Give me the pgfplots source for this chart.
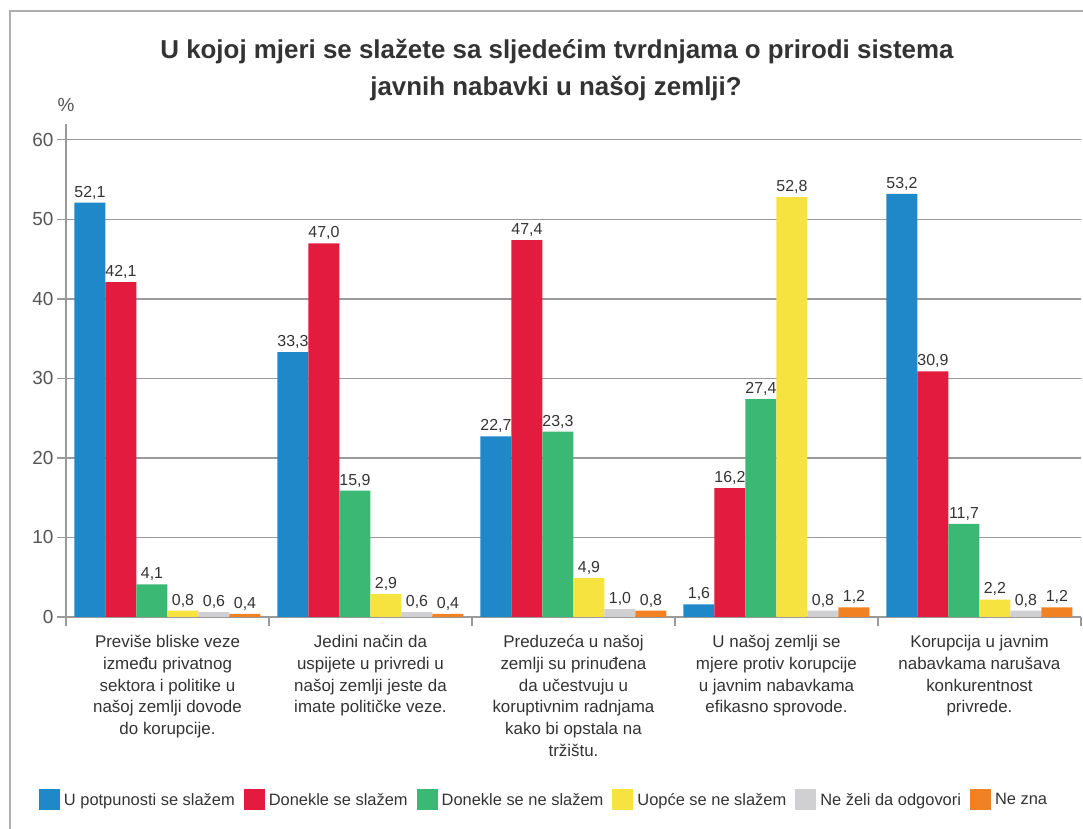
\documentclass[border=0pt]{standalone}
\usepackage{fontspec}
\setmainfont{Liberation Sans}
\usepackage{pgfplots}
\pgfplotsset{compat=1.18}
\definecolor{cBlue}{HTML}{1F88C9}
\definecolor{cRed}{HTML}{E31B3F}
\definecolor{cGreen}{HTML}{3BB873}
\definecolor{cYellow}{HTML}{F7E33F}
\definecolor{cGrey}{HTML}{D0D0D2}
\definecolor{cOrange}{HTML}{F28121}
\definecolor{cText}{HTML}{333333}
\definecolor{cTick}{HTML}{555555}
\definecolor{cLine}{HTML}{9A9A9A}
\begin{document}
\begin{tikzpicture}
\path[use as bounding box] (0,0) rectangle (1083bp,829bp);
\draw[color=cLine!80, line width=1.5bp] (10bp,-2bp) -- (10bp,818bp) -- (1085bp,818bp);
\node[anchor=base, font=\fontsize{26}{30}\selectfont\bfseries, text=cText] at (557bp,770bp) {U kojoj mjeri se slažete sa sljedećim tvrdnjama o prirodi sistema};
\node[anchor=base, font=\fontsize{26}{30}\selectfont\bfseries, text=cText] at (556bp,733bp) {javnih nabavki u našoj zemlji?};
\node[anchor=base, font=\fontsize{19}{22}\selectfont, text=cTick] at (66bp,717bp) {\%};
\begin{axis}[
  at={(66bp,212bp)}, anchor=south west,
  scale only axis, width=1015bp, height=493bp,
  xmin=0, xmax=5, ymin=0, ymax=62,
  axis lines=left, axis line style={-, color=cLine, line width=1.2bp},
  ytick={0,10,...,60}, ymajorgrids,
  grid style={color=cLine, line width=1.2bp},
  xtick={0,1,2,3,4,5}, xticklabels={},
  extra x ticks={0.5,1.5,2.5,3.5,4.5},
  extra x tick style={major tick length=0pt, grid=none},
  extra x tick labels={
    {Previše bliske veze\\između privatnog\\sektora i politike u\\našoj zemlji dovode\\do korupcije.},
    {Jedini način da\\uspijete u privredi u\\našoj zemlji jeste da\\imate političke veze.},
    {Preduzeća u našoj\\zemlji su prinuđena\\da učestvuju u\\koruptivnim radnjama\\kako bi opstala na\\tržištu.},
    {U našoj zemlji se\\mjere protiv korupcije\\u javnim nabavkama\\efikasno sprovode.},
    {Korupcija u javnim\\nabavkama narušava\\konkurentnost\\privrede.}},
  tick align=outside, major tick length=9bp,
  tick style={color=cLine, line width=1.2bp},
  xticklabel style={align=center, anchor=north, font=\fontsize{17}{21.7}\selectfont, text=cText, yshift=-15bp},
  yticklabel style={font=\fontsize{19}{22}\selectfont, text=cTick},
  /pgf/number format/assume math mode=true,
  ybar=0pt, bar width=31bp,
  nodes near coords={\pgfmathprintnumber[fixed,fixed zerofill,precision=1,use comma]{\pgfplotspointmeta}},
  every node near coord/.append style={font=\fontsize{16}{19}\selectfont, text=cText, /pgf/number format/assume math mode=true},
  legend columns=6,
  legend style={at={(0.471,-0.371)}, anchor=center, draw=none, fill=none,
    font=\fontsize{16.5}{20}\selectfont, text=cText,
    /tikz/every odd column/.append style={column sep=2bp},
    /tikz/every even column/.append style={column sep=7bp}},
  legend image code/.code={\path[#1, draw=none] (0bp,-10.5bp) rectangle (21bp,10.5bp);},
]
\addplot[fill=cBlue, draw=none, bar shift=-77.5bp] coordinates {(0.5,52.1) (1.5,33.3) (2.5,22.7) (3.5,1.6) (4.5,53.2)};
\addplot[fill=cRed, draw=none, bar shift=-46.5bp] coordinates {(0.5,42.1) (1.5,47.0) (2.5,47.4) (3.5,16.2) (4.5,30.9)};
\addplot[fill=cGreen, draw=none, bar shift=-15.5bp] coordinates {(0.5,4.1) (1.5,15.9) (2.5,23.3) (3.5,27.4) (4.5,11.7)};
\addplot[fill=cYellow, draw=none, bar shift=15.5bp] coordinates {(0.5,0.8) (1.5,2.9) (2.5,4.9) (3.5,52.8) (4.5,2.2)};
\addplot[fill=cGrey, draw=none, bar shift=46.5bp] coordinates {(0.5,0.6) (1.5,0.6) (2.5,1.0) (3.5,0.8) (4.5,0.8)};
\addplot[fill=cOrange, draw=none, bar shift=77.5bp] coordinates {(0.5,0.4) (1.5,0.4) (2.5,0.8) (3.5,1.2) (4.5,1.2)};
\legend{U potpunosti se slažem, Donekle se slažem, Donekle se ne slažem, Uopće se ne slažem, Ne želi da odgovori, Ne zna}
\end{axis}
\end{tikzpicture}
\end{document}
